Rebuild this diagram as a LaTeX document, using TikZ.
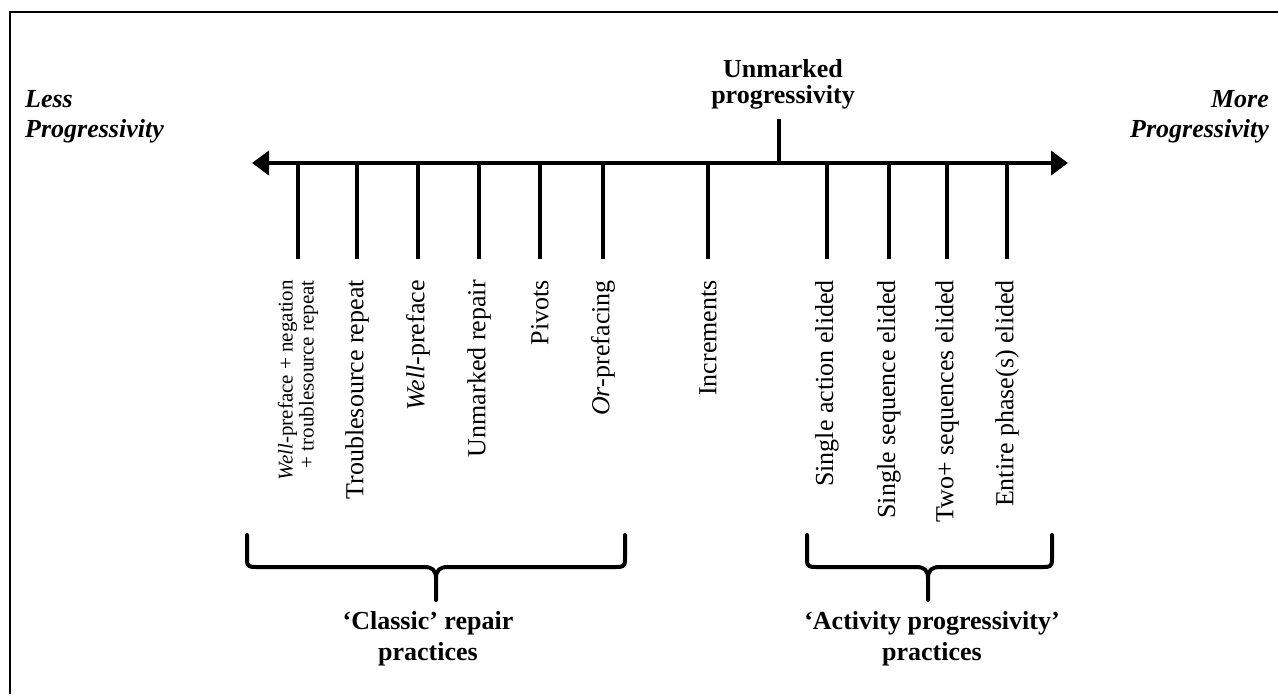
\documentclass[tikz,border=0pt]{standalone}
\usepackage{fontspec}
\setmainfont{Liberation Serif}
\usetikzlibrary{arrows.meta}
\tikzset{
  frameline/.style={line width=2.5pt},
  axisline/.style={line width=4pt,{Triangle[length=17pt,width=24pt]}-{Triangle[length=17pt,width=24pt]}},
  tickline/.style={line width=3.5pt},
  bracepath/.style={line width=4pt,line cap=round,line join=round},
  ticklabel/.style={rotate=90,anchor=east,inner sep=0pt,font=\fontsize{26}{26}\selectfont},
  smallticklabel/.style={rotate=90,anchor=east,inner sep=0pt,align=right,font=\fontsize{21}{21}\selectfont},
  sidelabel/.style={inner sep=0pt,font=\fontsize{26}{30}\selectfont\bfseries\itshape},
  grouplabel/.style={inner sep=0pt,align=center,font=\fontsize{26}{31}\selectfont\bfseries},
}
\begin{document}
\begin{tikzpicture}[x=1pt,y=-1pt]
\useasboundingbox (0,0) rectangle (1278,694);
% frame (only left and top edges visible)
\coordinate (fbl) at (10,694);
\coordinate (ftl) at (10,12);
\coordinate (ftr) at (1278,12);
\draw[frameline] (fbl) -- (ftl) -- (ftr);

% axis
\coordinate (aL) at (252,163);
\coordinate (aR) at (1068,163);
\draw[axisline] (aL) -- (aR);

% unmarked progressivity tick
\coordinate (uA) at (779,163);
\coordinate (uT) at (779,119);
\draw[tickline] (uA) -- (uT);
\node[grouplabel,anchor=north,font=\fontsize{26}{26}\selectfont\bfseries] (unm) at (783,59) {Unmarked\\progressivity};

% side labels
\node[sidelabel,anchor=north west,align=left] (less) at (25,90) {Less\\Progressivity};
\node[sidelabel,anchor=north east,align=right] (more) at (1269,90) {More\\Progressivity};

% ticks
\foreach \i/\x in {1/298,2/357,3/418,4/479,5/540,6/603,7/708,8/827,9/889,10/947,11/1007}{
  \coordinate (t\i a) at (\x,163);
  \coordinate (t\i b) at (\x,259);
  \draw[tickline] (t\i a) -- (t\i b);
}

% tick labels
\node[smallticklabel] (l1) at (298,280) {\textit{Well}-preface + negation\\+ troublesource repeat};
\node[ticklabel] (l2) at (357,280) {Troublesource repeat};
\node[ticklabel] (l3) at (418,280) {\textit{Well}-preface};
\node[ticklabel] (l4) at (479,280) {Unmarked repair};
\node[ticklabel] (l5) at (540,280) {Pivots};
\node[ticklabel] (l6) at (603,280) {\textit{Or}-prefacing};
\node[ticklabel] (l7) at (708,280) {Increments};
\node[ticklabel] (l8) at (827,280) {Single action elided};
\node[ticklabel] (l9) at (889,280) {Single sequence elided};
\node[ticklabel] (l10) at (947,280) {Two+ sequences elided};
\node[ticklabel] (l11) at (1007,280) {Entire phase(s) elided};

% left brace
\draw[bracepath] (247,535) -- (247,559) .. controls (247,567) and (249,567) .. (257,567) -- (424,567) .. controls (432,567) and (436,570) .. (436,578) -- (436,600);
\draw[bracepath] (625,535) -- (625,559) .. controls (625,567) and (623,567) .. (615,567) -- (448,567) .. controls (440,567) and (436,570) .. (436,578);
% right brace
\draw[bracepath] (807,535) -- (807,559) .. controls (807,567) and (809,567) .. (817,567) -- (916,567) .. controls (924,567) and (928,570) .. (928,578) -- (928,600);
\draw[bracepath] (1052,535) -- (1052,559) .. controls (1052,567) and (1050,567) .. (1042,567) -- (940,567) .. controls (932,567) and (928,570) .. (928,578);

% group labels
\node[grouplabel,anchor=north] (classic) at (428,611) {‘Classic’ repair\\practices};
\node[grouplabel,anchor=north] (activity) at (932,611) {‘Activity progressivity’\\practices};
\end{tikzpicture}
\end{document}
